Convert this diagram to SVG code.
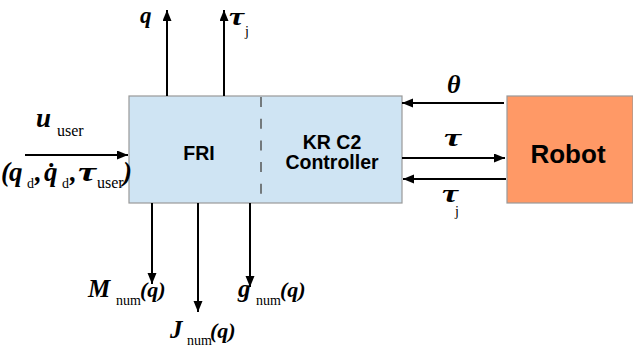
<svg xmlns="http://www.w3.org/2000/svg" width="633" height="347" viewBox="0 0 633 347">
<defs>
<marker id="ah" markerUnits="userSpaceOnUse" markerWidth="12" markerHeight="10" refX="11" refY="4.5" orient="auto">
<path d="M0,0 L11,4.5 L0,9 z" fill="#000"/>
</marker>
<style>
.box{stroke:#999;stroke-width:1.2}
.lbl{font-family:"Liberation Sans",Arial,sans-serif;font-weight:bold;fill:#000}
.m{font-family:"Liberation Serif","Times New Roman",serif;font-weight:bold;font-style:italic;fill:#000}
.s{font-family:"Liberation Serif","Times New Roman",serif;font-weight:normal;font-style:normal;fill:#000}
.c{stroke:#000;stroke-width:2;fill:none;marker-end:url(#ah)}
</style>
</defs>
<rect width="633" height="347" fill="#fff"/>
<g id="controller">
<rect class="box" x="129" y="96" width="273" height="107" fill="#cfe4f3"/>
<line x1="261" y1="97" x2="261" y2="202" stroke="#555" stroke-width="1.5" stroke-dasharray="10,11.7"/>
<text class="lbl" x="199" y="160" font-size="19.5" text-anchor="middle">FRI</text>
<text class="lbl" x="332" y="149" font-size="19.5" text-anchor="middle">KR C2</text>
<text class="lbl" x="332" y="169" font-size="19.5" text-anchor="middle">Controller</text>
</g>
<g id="robot">
<rect class="box" x="507" y="96" width="126" height="107" fill="#ff9966"/>
<text class="lbl" x="568" y="163" font-size="26" text-anchor="middle">Robot</text>
</g>
<g id="connectors">
<line class="c" x1="167" y1="96" x2="167" y2="10"/>
<line class="c" x1="224" y1="96" x2="224" y2="10"/>
<line class="c" x1="25" y1="155" x2="128" y2="155"/>
<line class="c" x1="152" y1="203" x2="152" y2="284"/>
<line class="c" x1="198" y1="203" x2="198" y2="312"/>
<line class="c" x1="250" y1="203" x2="250" y2="287"/>
<line class="c" x1="504" y1="103" x2="402" y2="103"/>
<line class="c" x1="402" y1="158" x2="505" y2="158"/>
<line class="c" x1="506" y1="179" x2="403" y2="179"/>
</g>
<g id="labels">
<text class="m" x="140" y="23" font-size="23">q</text>
<text class="m" x="229" y="25" font-size="25" textLength="15" lengthAdjust="spacingAndGlyphs">τ</text>
<text class="s" x="245" y="36" font-size="14">j</text>
<text class="m" x="36" y="127" font-size="27">u</text>
<text class="s" x="57" y="136" font-size="16">user</text>
<text y="181"><tspan class="m" font-size="27" x="1">(</tspan><tspan class="m" font-size="27" x="9">q</tspan><tspan class="s" font-size="14" x="27" y="188">d</tspan><tspan class="m" font-size="27" x="35" y="181">,</tspan><tspan class="m" font-size="27" x="44">q̇</tspan><tspan class="s" font-size="14" x="62" y="188">d</tspan><tspan class="m" font-size="27" x="70" y="181">,</tspan></text>
<text class="m" x="78" y="181" font-size="27" textLength="18" lengthAdjust="spacingAndGlyphs">τ</text>
<text class="s" x="97" y="188" font-size="16">user</text>
<text class="m" x="123" y="181" font-size="27">)</text>
<text class="m" x="447" y="93" font-size="26">θ</text>
<text class="m" x="444" y="146" font-size="26" textLength="17" lengthAdjust="spacingAndGlyphs">τ</text>
<text class="m" x="442" y="202" font-size="26" textLength="16" lengthAdjust="spacingAndGlyphs">τ</text>
<text class="s" x="455" y="216" font-size="14">j</text>
<text y="297"><tspan class="m" font-size="25" x="88">M</tspan><tspan class="s" font-size="14" x="116" y="305">num</tspan><tspan class="m" font-size="22" x="140" y="297">(q)</tspan></text>
<text y="338"><tspan class="m" font-size="25" x="170">J</tspan><tspan class="s" font-size="14" x="187" y="345">num</tspan><tspan class="m" font-size="22" x="210" y="338">(q)</tspan></text>
<text y="297"><tspan class="m" font-size="25" x="238">g</tspan><tspan class="s" font-size="14" x="256" y="305">num</tspan><tspan class="m" font-size="22" x="280" y="297">(q)</tspan></text>
</g>
</svg>
